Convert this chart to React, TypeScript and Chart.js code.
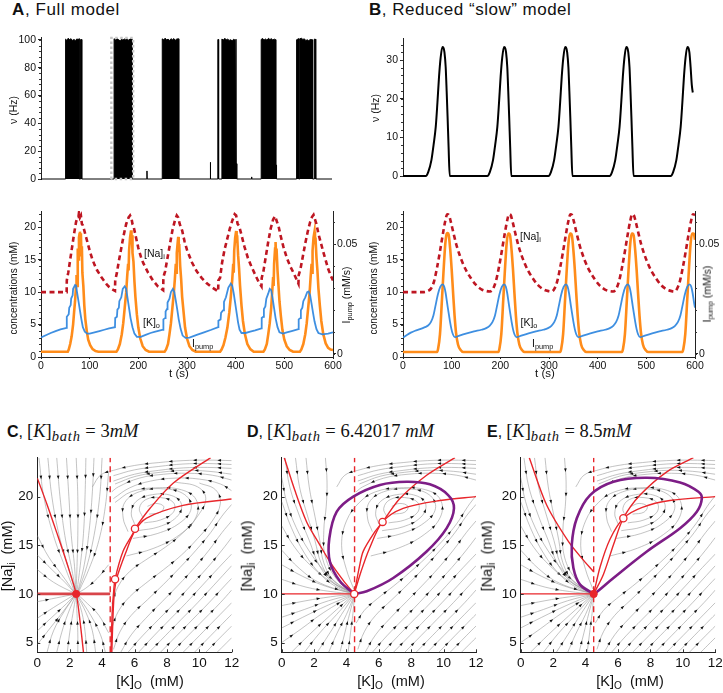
import React, { useEffect, useRef } from 'react';
import { Chart, registerables } from 'chart.js';

Chart.register(...registerables);

const SANS = '"Liberation Sans", Arial, Helvetica, sans-serif';
const SERIF = '"Liberation Serif", "Times New Roman", serif';

const NA_COLOR = '#be1622';
const PUMP_COLOR = '#ff8c1a';
const RED = '#e8262b';
const PURPLE = '#7d1d86';
const STREAM = '#9a9a9a';

// ---------- ticks ----------
const T_TICKS = [0, 100, 200, 300, 400, 500, 600];
const RATE_FULL_TICKS = [0, 20, 40, 60, 80, 100];
const RATE_SLOW_TICKS = [0, 10, 20, 30];
const CONC_TICKS = [0, 5, 10, 15, 20];
const PUMP_TICKS = [0, 0.05];
const KO_TICKS = [0, 2, 4, 6, 8, 10, 12];
const NAI_TICKS = [5, 10, 15, 20];

// ---------- A: full model, firing rate (t s, Hz) ----------
const RATE_FULL = [
  [0, 0], [50.7, 0], [50.7, 100.6], [53, 99.8], [56, 101.2], [59, 100.3], [62, 100.9], [65, 99.6], [68, 100.4], [71, 99.5], [74, 100.8], [77, 100.1], [78.7, 100.9], [78.7, 0],
  [81.6, 0], [81.6, 100.3], [84, 100.3], [84, 0],
  [150.7, 0], [150.7, 100.9], [154, 99.9], [157, 101.3], [160, 100.2], [163, 99.4], [166, 100.5], [169, 99.9], [172, 100.7], [175, 100.0], [178, 100.6], [181, 99.8], [184, 101.0], [187.6, 100.4], [187.6, 0],
  [218.2, 0], [218.5, 5.8], [218.8, 0],
  [250, 0], [250, 100.8], [253, 100.1], [256, 101.3], [259, 100.0], [262, 100.6], [265, 99.6], [268, 100.9], [271, 100.2], [274, 101.0], [277, 99.8], [280, 100.7], [284, 100.8], [284, 0],
  [349, 0], [349.3, 12], [349.6, 0],
  [364.6, 0], [364.6, 100.3], [366.2, 100.3], [366.2, 0],
  [373, 0], [373, 100.7], [376, 99.9], [379, 101.2], [382, 100.1], [385, 100.6], [388, 99.7], [391, 100.2], [394, 99.4], [397, 100.5], [400, 99.9], [402, 100.6], [402, 11], [403.6, 11], [403.6, 0],
  [434, 0], [434.3, 1.5], [434.6, 0],
  [454, 0], [454, 100.4], [457, 101.1], [460, 100.0], [463, 100.7], [466, 99.8], [469, 101.2], [472, 100.3], [475, 100.9], [478, 100.0], [481, 100.6], [484, 100.2], [484, 10], [485.6, 10], [485.6, 0],
  [527, 0], [527, 100.2], [531.5, 100.9], [531.5, 0], [533.5, 0], [533.5, 100.8], [537, 101.2], [540, 100.4], [543, 100.8], [546, 99.6], [549, 100.1], [552, 99.5], [555, 100.3], [560, 100.1], [560, 0],
  [563.5, 0], [563.5, 100.6], [565.5, 100.6], [565.5, 11], [567, 11], [567, 0],
  [600, 0],
];
const RATE_FULL_BOX = [[145, 0], [145, 101.5], [190, 101.5], [190, 0], [145, 0]];

// ---------- A: full model, concentrations (mM) and pump (mM/s) ----------
const NA_FULL = [
  [0, 10], [52.7, 10], [53, 11.8], [56, 13], [60, 15], [64, 17], [68, 19], [72, 20.8], [75, 21.6], [77, 21.6], [78, 22.2], [80, 21.5], [82, 21.8], [84, 20.5], [86, 20.3], [90, 19.2], [95, 17.8], [100, 16.4], [105, 15.2], [110, 14.2], [115, 13.4], [120, 12.8], [125, 12.2], [130, 11.7], [135, 11.2], [140, 10.8], [145, 10.5], [152, 10.2],
  [152.5, 11.8], [156, 13], [160, 14.8], [165, 16.8], [170, 18.8], [175, 20.5], [180, 21.5], [183, 21.8], [186, 21.3], [188, 20.5], [190, 20.2], [195, 18.5], [200, 16.8], [205, 15.5], [210, 14.5], [220, 13], [230, 11.8], [240, 10.9], [251, 10.3],
  [251.5, 12.3], [255, 13.2], [260, 15.3], [265, 17.4], [270, 19.5], [275, 21], [279, 21.8], [282, 21.5], [285, 20.5], [290, 19.5], [295, 17.8], [300, 16.5], [310, 14.6], [320, 13.2], [330, 12.2], [340, 11.4], [350, 10.8], [364, 10.1],
  [364.5, 11.8], [368, 12.2], [372, 14.5], [377, 16.5], [382, 18], [388, 19.8], [393, 21], [398, 22], [401, 21.8], [404, 20.5], [407, 20.2], [412, 18.8], [418, 17], [425, 15.3], [432, 14], [440, 12.7], [447, 11.6], [453, 10.9],
  [453.5, 12.2], [457, 13.2], [462, 15.5], [467, 17.8], [472, 19.8], [477, 21.2], [481, 21.7], [485, 20.8], [488, 20.2], [492, 18.8], [498, 17], [505, 15.3], [512, 14], [520, 12.8], [529, 11.3],
  [529.5, 12.6], [533, 13.5], [538, 15.5], [543, 17.5], [548, 19.3], [553, 20.8], [557, 21.6], [560, 21.9], [563, 21.2], [566, 20.5], [570, 19], [575, 17.6], [580, 16.2], [585, 14.9], [590, 13.6], [595, 12.6], [600, 11.8],
];
const K_FULL = [
  [0, 3], [10, 3.35], [20, 3.7], [30, 4], [40, 4.25], [52.7, 4.5], [53, 6.2], [57, 6.6], [58, 7.6], [61, 8], [62, 9], [65, 9.5], [66, 10.5], [70, 11.1], [72, 11], [74, 10], [77, 8.6], [80, 7.2], [83, 5.8], [86, 4.6], [90, 3.9], [95, 3.6], [100, 3.6], [110, 3.8], [120, 4], [130, 4.2], [140, 4.4], [152, 4.6],
  [152.5, 6], [156, 6.2], [157, 7.3], [160, 7.6], [161, 8.6], [165, 9.2], [168, 10.5], [172, 10.9], [175, 10.5], [178, 9], [181, 7.5], [184, 6], [188, 4.6], [192, 3.6], [197, 3.1], [205, 3.1], [215, 3.4], [225, 3.7], [235, 3.9], [251, 4.2],
  [251.5, 5.8], [255, 6], [256, 7], [259, 7.4], [260, 8.4], [264, 9], [267, 10], [271, 10.5], [274, 10], [277, 8.7], [280, 7.3], [283, 5.8], [287, 4.3], [291, 3.3], [297, 2.95], [305, 3], [320, 3.4], [335, 3.8], [350, 4.2], [364, 4.6],
  [364.5, 5.6], [369, 5.8], [370, 6.8], [374, 7.2], [376, 8.5], [380, 9.2], [385, 10.7], [390, 11.3], [393, 11], [396, 9.8], [399, 8.3], [402, 6.8], [405, 5.3], [408, 4.2], [412, 3.7], [420, 3.7], [430, 3.9], [440, 4.1], [453, 4.4],
  [453.5, 6], [457, 6.2], [458, 7.4], [461, 7.8], [463, 9], [467, 9.8], [470, 10.5], [473, 10.3], [476, 9], [479, 7.5], [482, 6], [486, 4.6], [490, 3.8], [497, 3.6], [505, 3.8], [515, 4], [529, 4.3],
  [529.5, 5.8], [533, 6], [534, 7.2], [537, 7.6], [539, 8.6], [543, 9.2], [547, 10], [550, 10.1], [553, 9.5], [556, 8.2], [559, 6.8], [562, 5.5], [566, 4.3], [570, 3.7], [578, 3.5], [590, 3.6], [600, 3.8],
];
const PUMP_FULL = [
  [0, 0.001], [55, 0.001], [57, 0.002], [60, 0.0045], [63, 0.008], [66, 0.0135], [68, 0.019], [70, 0.024], [72, 0.031], [73, 0.036], [74, 0.031], [75, 0.044], [76, 0.048], [77, 0.043], [78, 0.053], [79, 0.0545], [80, 0.0557], [81, 0.052], [82, 0.055], [83, 0.045], [84, 0.049], [85, 0.037], [87, 0.031], [89, 0.022], [91, 0.016], [94, 0.0105], [97, 0.0065], [101, 0.004], [106, 0.0022], [112, 0.0013], [118, 0.001],
  [155, 0.001], [158, 0.002], [162, 0.0045], [166, 0.009], [169, 0.014], [172, 0.021], [175, 0.028], [177, 0.035], [179, 0.041], [180, 0.038], [181, 0.047], [183, 0.053], [185, 0.0563], [186, 0.05], [187, 0.054], [188, 0.046], [190, 0.042], [192, 0.033], [194, 0.026], [197, 0.018], [200, 0.012], [204, 0.007], [209, 0.0035], [215, 0.0018], [222, 0.001],
  [254, 0.001], [257, 0.002], [261, 0.0045], [264, 0.009], [267, 0.014], [270, 0.021], [273, 0.028], [275, 0.034], [277, 0.041], [278, 0.037], [279, 0.046], [281, 0.051], [282, 0.0533], [283, 0.047], [284, 0.05], [286, 0.04], [288, 0.034], [290, 0.026], [293, 0.019], [296, 0.012], [300, 0.007], [305, 0.0035], [311, 0.0018], [318, 0.001],
  [368, 0.001], [371, 0.002], [375, 0.004], [379, 0.0075], [383, 0.012], [387, 0.019], [390, 0.026], [393, 0.034], [395, 0.041], [396, 0.037], [397, 0.047], [399, 0.053], [401, 0.056], [402, 0.051], [403, 0.054], [405, 0.045], [407, 0.039], [409, 0.031], [412, 0.022], [415, 0.015], [419, 0.009], [424, 0.0045], [430, 0.0022], [437, 0.001],
  [457, 0.001], [460, 0.002], [464, 0.0045], [467, 0.009], [470, 0.014], [473, 0.021], [475, 0.028], [477, 0.035], [478, 0.031], [479, 0.041], [481, 0.048], [482, 0.051], [483, 0.045], [484, 0.048], [486, 0.038], [488, 0.031], [490, 0.024], [493, 0.017], [496, 0.011], [500, 0.0065], [505, 0.0035], [511, 0.0018], [518, 0.001],
  [532, 0.001], [535, 0.002], [539, 0.0045], [543, 0.009], [546, 0.014], [549, 0.021], [552, 0.028], [554, 0.035], [556, 0.041], [557, 0.037], [558, 0.047], [560, 0.053], [562, 0.0557], [563, 0.05], [564, 0.053], [566, 0.044], [568, 0.038], [570, 0.03], [573, 0.022], [576, 0.015], [580, 0.009], [585, 0.0048], [590, 0.0028], [595, 0.002], [600, 0.0018],
];

// ---------- B: reduced model ----------
const RATE_SLOW = [
  [0, 0], [47, 0], [52, 1], [58.6, 4.1], [63, 8], [67.5, 12.7], [71, 19], [74.3, 25.7], [77.5, 30.5], [81.2, 33.4], [83, 33.3], [85.5, 32], [88, 28.2], [90, 22], [92, 15], [94, 7.5], [96.3, 0],
  [174, 0], [179, 1], [185.6, 4.1], [190, 8], [194.5, 12.7], [198, 19], [201.3, 25.7], [204.5, 30.5], [208.2, 33.4], [210, 33.3], [212.5, 32], [215, 28.2], [217, 22], [219, 15], [221, 7.5], [223.3, 0],
  [300, 0], [305, 1], [311.6, 4.1], [316, 8], [320.5, 12.7], [324, 19], [327.3, 25.7], [330.5, 30.5], [334.2, 33.4], [336, 33.3], [338.5, 32], [341, 28.2], [343, 22], [345, 15], [347, 7.5], [349.3, 0],
  [426, 0], [431, 1], [437.6, 4.1], [442, 8], [446.5, 12.7], [450, 19], [453.3, 25.7], [456.5, 30.5], [460.2, 33.4], [462, 33.3], [464.5, 32], [467, 28.2], [469, 22], [471, 15], [473, 7.5], [475.3, 0],
  [552, 0], [557, 1], [563.6, 4.1], [568, 8], [572.5, 12.7], [576, 19], [579.3, 25.7], [582.5, 30.5], [586.2, 33.4], [588, 33.3], [590.5, 32], [593, 28.2], [595.5, 23.5], [597.5, 21.6],
];
const NA_SLOW = [
  [0, 10], [40, 10], [52, 10.2], [58, 10.6], [64, 11.7], [70, 13.8], [76, 16.3], [82, 19], [87, 21], [91, 22], [94, 21.9], [98, 20.9], [104, 19], [110, 17.2], [116, 15.8], [122, 14.6], [130, 13.3], [140, 12.1], [150, 11.1], [162, 10.4], [172, 10.15], [179, 10.1],
  [185, 10.5], [191, 11.7], [197, 13.8], [203, 16.3], [209, 19], [214, 21], [218, 22], [221, 21.9], [225, 20.9], [231, 19], [237, 17.2], [243, 15.8], [249, 14.6], [257, 13.3], [267, 12.1], [277, 11.1], [289, 10.4], [299, 10.15], [305, 10.1],
  [311, 10.5], [317, 11.7], [323, 13.8], [329, 16.3], [335, 19], [340, 21], [344, 22], [347, 21.9], [351, 20.9], [357, 19], [363, 17.2], [369, 15.8], [375, 14.6], [383, 13.3], [393, 12.1], [403, 11.1], [415, 10.4], [425, 10.15], [432, 10.1],
  [438, 10.5], [444, 11.7], [450, 13.8], [456, 16.3], [462, 19], [467, 21], [471, 22], [474, 21.9], [478, 20.9], [484, 19], [490, 17.2], [496, 15.8], [502, 14.6], [510, 13.3], [520, 12.1], [530, 11.1], [542, 10.4], [552, 10.15], [558, 10.1],
  [563, 10.5], [569, 11.7], [575, 13.8], [581, 16.3], [587, 19], [592, 21], [596, 22], [600, 21.9],
];
const K_SLOW = [
  [0, 3], [8, 3.4], [16, 3.75], [25, 4.05], [35, 4.3], [45, 4.6], [51.5, 4.85], [57.5, 5.4], [62.5, 6.4], [66.5, 7.8], [71.5, 9.6], [76.5, 10.8], [81.5, 11.2], [84.5, 10.9], [87.5, 9.9], [90.5, 8.4], [93.5, 6.9], [96.5, 5.5], [99.5, 4.3], [102.5, 3.5], [106.5, 3.05],
  [116, 3.3], [131, 3.65], [146, 3.95], [161, 4.2], [171, 4.45], [178, 4.8], [184, 5.4], [189, 6.4], [193, 7.8], [198, 9.6], [203, 10.8], [208, 11.2], [211, 10.9], [214, 9.9], [217, 8.4], [220, 6.9], [223, 5.5], [226, 4.3], [229, 3.5], [233, 3.05],
  [243, 3.3], [258, 3.65], [273, 3.95], [288, 4.2], [298, 4.45], [305, 4.8], [311, 5.4], [316, 6.4], [320, 7.8], [325, 9.6], [330, 10.8], [335, 11.2], [338, 10.9], [341, 9.9], [344, 8.4], [347, 6.9], [350, 5.5], [353, 4.3], [356, 3.5], [360, 3.05],
  [370, 3.3], [385, 3.65], [400, 3.95], [415, 4.2], [425, 4.45], [432, 4.8], [438, 5.4], [443, 6.4], [447, 7.8], [452, 9.6], [457, 10.8], [462, 11.2], [465, 10.9], [468, 9.9], [471, 8.4], [474, 6.9], [477, 5.5], [480, 4.3], [483, 3.5], [487, 3.05],
  [497, 3.3], [512, 3.65], [527, 3.95], [542, 4.2], [552, 4.45], [559, 4.8], [565, 5.4], [570, 6.4], [574, 7.8], [579, 9.6], [584, 10.8], [589, 11.2], [592, 10.9], [595, 9.9], [598, 8.4], [600, 7.6],
];
const PUMP_SLOW = [
  [0, 0.0009], [70, 0.0009], [72, 0.0022], [76, 0.009], [80, 0.0246], [83, 0.0365], [87, 0.0504], [90, 0.0548], [92, 0.0551], [94, 0.0542], [97, 0.0477], [100, 0.0385], [103, 0.0276], [106, 0.0173], [109, 0.0096], [113, 0.0043], [118, 0.0019], [124, 0.0009],
  [196, 0.0009], [198, 0.0022], [202, 0.009], [206, 0.0246], [209, 0.0365], [213, 0.0504], [216, 0.0548], [218, 0.0548], [220, 0.054], [223, 0.0475], [226, 0.0385], [229, 0.0276], [232, 0.0173], [235, 0.0096], [239, 0.0043], [244, 0.0019], [250, 0.0009],
  [323, 0.0009], [325, 0.0022], [329, 0.009], [333, 0.0246], [336, 0.0365], [340, 0.0504], [343, 0.0548], [345, 0.0548], [347, 0.054], [350, 0.0475], [353, 0.0385], [356, 0.0276], [359, 0.0173], [362, 0.0096], [366, 0.0043], [371, 0.0019], [377, 0.0009],
  [450, 0.0009], [452, 0.0022], [456, 0.009], [460, 0.0246], [463, 0.0365], [467, 0.0504], [470, 0.0548], [472, 0.0548], [474, 0.054], [477, 0.0475], [480, 0.0385], [483, 0.0276], [486, 0.0173], [489, 0.0096], [493, 0.0043], [498, 0.0019], [504, 0.0009],
  [574, 0.0009], [576, 0.0022], [580, 0.009], [584, 0.0246], [587, 0.0365], [591, 0.0504], [594, 0.0548], [596.5, 0.0548], [598, 0.0545], [600, 0.052],
];

// ---------- C/D/E phase planes ([K]o mM, [Na]i mM) ----------
const RIGHT_DIAG = [
  [[4.7, 4.3], [5.1, 6.1], [5.8, 7.8], [6.8, 9.4], [7.8, 11], [8.8, 12.7], [9.8, 14.5], [10.7, 16.3], [11.4, 18], [12, 19.2]],
  [[5.15, 4], [5.8, 5.8], [6.7, 7.5], [7.7, 9.2], [8.7, 10.9], [9.7, 12.7], [10.6, 14.5], [11.4, 16.3], [12, 17.5]],
  [[5.6, 4], [6.5, 5.7], [7.5, 7.4], [8.5, 9.1], [9.5, 10.9], [10.5, 12.7], [11.4, 14.5], [12, 15.8]],
  [[6.25, 4], [7.2, 5.7], [8.2, 7.4], [9.2, 9.1], [10.2, 10.9], [11.2, 12.7], [12, 14.1]],
  [[6.9, 4], [7.9, 5.7], [8.9, 7.4], [9.9, 9.1], [10.9, 10.9], [12, 12.9]],
  [[7.6, 4], [8.6, 5.7], [9.6, 7.4], [10.6, 9.1], [11.6, 10.9], [12, 11.6]],
  [[8.3, 4], [9.3, 5.7], [10.3, 7.4], [11.3, 9.1], [12, 10.4]],
  [[9, 4], [10, 5.7], [11, 7.4], [12, 9.1]],
  [[9.7, 4], [10.7, 5.7], [11.7, 7.4], [12, 7.9]],
  [[10.4, 4], [11.4, 5.7], [12, 6.7]],
  [[11.1, 4], [11.7, 5], [12, 5.5]],
];
const TOP_FLOW = [
  [[12, 23.7], [10.5, 23.75], [9, 23.7], [7.5, 23.5], [6, 23.2], [4.7, 22.7], [3.9, 22.2], [3.4, 21]],
  [[12, 23.3], [10.5, 23.4], [9, 23.35], [7.5, 23.1], [6, 22.75], [4.7, 22.15]],
  [[12, 22.9], [10.5, 23], [9, 22.95], [7.5, 22.7], [6, 22.3], [4.7, 21.6]],
  [[12, 22.3], [10.6, 22.6], [9.1, 22.7], [7.6, 22.5], [6.1, 22.1], [4.8, 21.3]],
  [[12, 21.7], [10.8, 22.2], [9.3, 22.4], [7.8, 22.3], [6.3, 21.9], [5, 21], [4.6, 20.5]],
];
const INNER_LOOPS = [
  [[6.9, 18.2], [7.6, 18.4], [7.8, 19], [7.3, 19.3], [6.8, 19]],
  [[6.6, 17.3], [7.6, 17.6], [8.4, 18.4], [8.4, 19.4], [7.6, 19.9], [6.7, 19.7], [6.3, 18.8], [6.5, 17.9]],
  [[6.2, 16.5], [7.5, 16.9], [8.6, 17.9], [8.9, 19.2], [8.3, 20.1], [7.1, 20.2], [6.1, 19.5], [5.8, 18.3], [6, 17.2]],
  [[5.9, 15.7], [7.4, 16.2], [8.8, 17.3], [9.5, 18.8], [9.1, 20.2], [7.8, 20.8], [6.3, 20.5], [5.4, 19.4], [5.3, 17.8], [5.6, 16.4]],
];
const C_EXTRA = [
  [[12, 20.6], [11.3, 21.3], [10, 21.8], [8.5, 21.9], [7, 21.6], [5.7, 20.9], [4.7, 19.8]],
  [[5.5, 13.9], [7.2, 14.7], [8.8, 16.1], [9.8, 17.9], [9.8, 19.7], [8.9, 20.7], [7.3, 20.9], [5.8, 20.5], [4.8, 19.4]],
  [[4.6, 9], [5, 10.8], [5.7, 12.3], [6.7, 13.5], [7.9, 14.8], [9, 16.3], [9.9, 18], [10.4, 19.8], [9.9, 21], [8.5, 21.5]],
  [[4.6, 6.5], [5, 8.2], [5.7, 9.7], [6.7, 11.1], [7.8, 12.5], [8.9, 14], [9.9, 15.7], [10.8, 17.5], [11.3, 19.3], [11, 20.7], [10, 21.4]],
];
const C_LEFT = [
  [[0.1, 24], [0.4, 20], [1, 16], [1.7, 12.8], [2.3, 10.2]],
  [[0.65, 24], [0.9, 20], [1.35, 16], [1.9, 12.8], [2.33, 10.22]],
  [[1.2, 24], [1.4, 20], [1.7, 16], [2.1, 12.8], [2.37, 10.25]],
  [[1.8, 24], [1.95, 20], [2.1, 16], [2.3, 12.8], [2.38, 10.3]],
  [[2.4, 24], [2.5, 20], [2.5, 16], [2.45, 12.8], [2.4, 10.3]],
  [[3, 24], [2.95, 20.2], [2.85, 16.2], [2.65, 12.9], [2.45, 10.28]],
  [[3.5, 24], [3.4, 20.5], [3.2, 16.5], [2.9, 13], [2.5, 10.25]],
  [[4, 24], [3.85, 20], [3.5, 16], [3.05, 12.8], [2.52, 10.22]],
  [[4.4, 22.5], [4.2, 19], [3.8, 15.5], [3.2, 12.6], [2.55, 10.2]],
  [[0, 16], [0.7, 13.8], [1.5, 12], [2.3, 10.15]],
  [[0, 14], [0.9, 12.5], [1.7, 11.2], [2.3, 10.1]],
  [[0, 12.5], [1, 11.2], [2.3, 10.07]],
  [[4.4, 13], [3.7, 11.6], [3, 10.6], [2.5, 10.1]],
  [[0, 9.2], [1.2, 9.6], [2.3, 9.97]],
  [[0, 7.5], [1, 8.6], [2.3, 9.93]],
  [[0, 6.2], [0.9, 7.6], [1.8, 9], [2.32, 9.9]],
  [[0, 4.8], [0.8, 6.5], [1.6, 8.2], [2.33, 9.88]],
  [[0.6, 4], [1, 6.2], [1.7, 8.3], [2.35, 9.87]],
  [[1.2, 4], [1.5, 6], [1.9, 8], [2.37, 9.85]],
  [[1.85, 4], [2, 6], [2.2, 8], [2.39, 9.83]],
  [[2.5, 4], [2.5, 6], [2.45, 8], [2.4, 9.8]],
  [[3.05, 4], [2.95, 6.1], [2.75, 8.1], [2.42, 9.83]],
  [[3.6, 4], [3.4, 6.2], [3, 8.1], [2.45, 9.85]],
  [[4.2, 4], [3.9, 5.8], [3.3, 7.8], [2.48, 9.88]],
  [[4.4, 6], [3.8, 7.8], [3.1, 9], [2.5, 9.93]],
];
const DE_LEFT = [
  [[0.2, 24], [0.5, 21], [1.1, 18], [1.7, 15.5], [2.3, 13], [3.2, 11.1], [4.4, 10.08]],
  [[0.85, 24], [1.1, 21], [1.6, 18], [2.05, 15.5], [2.45, 13.1], [3.2, 11.2], [4.4, 10.1]],
  [[1.5, 24], [1.7, 21], [2.05, 18], [2.35, 15.5], [2.6, 13.2], [3.25, 11.3], [4.4, 10.12]],
  [[2.7, 24], [2.8, 21.5], [2.75, 19], [2.6, 16.5], [2.7, 13.8], [3.4, 11.5], [4.42, 10.15]],
  [[0, 22], [0.3, 19.5], [0.9, 16.8], [1.7, 14.4], [2.6, 12.4], [3.5, 11], [4.4, 10.06]],
  [[0, 19.5], [0.6, 16.8], [1.4, 14.2], [2.4, 12], [3.4, 10.7], [4.4, 10.05]],
  [[0, 17], [0.8, 14.8], [1.8, 12.9], [3, 11.3], [4.4, 10.04]],
  [[0, 14.5], [1.1, 12.6], [2.4, 11.1], [4.4, 10.03]],
  [[0, 13], [1.3, 11.8], [2.7, 10.8], [4.4, 10.02]],
  [[0, 11.5], [1.5, 10.7], [3, 10.25], [4.4, 10.01]],
  [[0, 8.8], [1.5, 9.3], [3, 9.7], [4.4, 9.97]],
  [[0, 7.6], [1.4, 8.4], [2.9, 9.3], [4.4, 9.95]],
  [[0, 6.5], [1.3, 7.6], [2.8, 8.8], [4.4, 9.93]],
  [[0, 5], [1.2, 6.4], [2.6, 8.1], [4.4, 9.9]],
  [[0.6, 4], [1.7, 5.8], [3, 7.8], [4.4, 9.88]],
  [[1.4, 4], [2.3, 5.9], [3.4, 7.9], [4.42, 9.85]],
  [[2.2, 4], [2.9, 5.8], [3.7, 7.9], [4.45, 9.82]],
  [[2.9, 4], [3.4, 5.9], [4, 7.9], [4.47, 9.8]],
  [[3.6, 4], [3.9, 6], [4.2, 8], [4.48, 9.75]],
  [[4.1, 4], [4.25, 6], [4.4, 8], [4.49, 9.7]],
  [[5.5, 13.9], [7.2, 14.7], [8.8, 16.1], [9.8, 17.9], [9.8, 19.7], [8.9, 20.7], [7.3, 20.9], [5.8, 20.5], [4.8, 19.4], [4, 17.5], [3.7, 15], [4, 12.5], [4.45, 10.5]],
  [[4.6, 7], [5.1, 8.3], [5.9, 9.5], [6.9, 10.8], [7.9, 12.2], [8.9, 13.7], [9.9, 15.4], [10.8, 17.2], [11.5, 19], [12, 20.1]],
];
const VLINE = [[4.5, 4], [4.5, 24]];

const C_NULLS = [
  [[0, 21.9], [0.6, 19.2], [1.2, 16.3], [1.8, 13.3], [2.4, 10], [2.65, 7], [2.85, 4]],
  [[4.55, 4], [4.62, 8], [4.7, 10], [4.8, 11.5], [5.3, 14.4], [5.9, 16.2], [6.03, 16.7], [6.96, 18.8], [8.4, 21.4], [10.7, 24]],
  [[4.6, 4], [4.68, 8], [4.75, 10], [4.9, 11.6], [5.45, 14.2], [6.03, 16.5], [6.75, 17.8], [9, 19.1], [12, 19.75]],
];
const C_THICK = [[0, 10], [4.5, 10]];
const C_STABLE = [[2.4, 10]];
const C_UNSTABLE = [[4.8, 11.5], [6.03, 16.7]];

const D_NULLS = [
  [[0.16, 24], [0.8, 20.7], [1.54, 17.4], [2.3, 15.2], [2.98, 13.3], [3.8, 11.4], [4.48, 10]],
  [[0, 10], [4.48, 10]],
  [[4.48, 10], [4.8, 12.8], [5.04, 14.4], [5.76, 16.4], [6.23, 17.4], [7.3, 19.8], [8.95, 22.2], [10.7, 24]],
  [[4.48, 10], [4.9, 12.3], [5.4, 14.6], [6.23, 17.4], [7.5, 18.8], [9.77, 19.6], [12, 20]],
];
const D_CYCLE = [[4.48, 10], [3.6, 11.3], [2.98, 13.3], [2.94, 15.7], [3.4, 18.45], [4.42, 20], [6.07, 21.2], [7.72, 21.53], [9.15, 21.26], [10.28, 20.16], [10.64, 18.8], [10.19, 16.76], [8.95, 14.36], [6.89, 11.64], [5.25, 10.27], [4.48, 10]];
const D_STABLE: number[][] = [];
const D_UNSTABLE = [[4.48, 10], [6.23, 17.4]];

const E_NULLS = [
  [[0.53, 24], [1.6, 19.14], [2.94, 15.4], [3.8, 13.6], [4.48, 12.3]],
  [[0, 10], [4.5, 10]],
  [[4.5, 10], [5.1, 12], [5.72, 15.05], [6.33, 17.78], [7.36, 20.16], [9.01, 22.55], [10.65, 24]],
  [[4.5, 10], [4.9, 12.8], [5.5, 15.6], [6.33, 17.78], [7.5, 18.9], [9.2, 19.6], [12, 20]],
];
const E_CYCLE = [[4.5, 10], [3.66, 10.95], [3.25, 12.66], [3.15, 15.05], [3.46, 17.78], [4.28, 20.16], [5.72, 21.53], [7.78, 21.94], [9.83, 21.46], [10.96, 20.5], [11.17, 19.82], [10.86, 18.45], [9.83, 16.76], [7.78, 14.36], [5.72, 11.64], [4.69, 10.2], [4.5, 10]];
const E_STABLE = [[4.5, 10]];
const E_UNSTABLE = [[6.33, 17.78]];

// ---------- helpers ----------
const xy = (a: number[][]) => a.map(([x, y]) => ({ x, y }));

type Box = { x: number; y: number; w: number; h: number };
type Area = { l: number; t: number; r: number; b: number };

function pad(box: Box, a: Area, yW: number, rW: number, xH: number) {
  return { left: a.l - box.x - yW, top: a.t - box.y, right: box.x + box.w - a.r - rW, bottom: box.y + box.h - a.b - xH };
}

function zeroPad(s: any) {
  s.paddingTop = 0; s.paddingBottom = 0; s.paddingLeft = 0; s.paddingRight = 0;
}

function yAx(o: any) {
  return {
    type: 'linear', position: o.pos, min: o.min, max: o.max,
    afterBuildTicks: (s: any) => { s.ticks = o.ticks.map((v: number) => ({ value: v })); },
    afterFit: (s: any) => { s.width = o.w; zeroPad(s); },
    grid: { display: true, drawOnChartArea: false, drawTicks: o.tick > 0, tickLength: o.tick || 0, color: '#222', lineWidth: 1 },
    border: { display: true, color: '#222', width: 1 },
    ticks: { font: { family: SANS, size: o.fs }, color: '#111', padding: o.pad, autoSkip: false, maxRotation: 0, callback: (v: any) => String(v) },
  };
}
function xAx(o: any) {
  return {
    type: 'linear', position: 'bottom', min: o.min, max: o.max,
    afterBuildTicks: (s: any) => { s.ticks = o.ticks.map((v: number) => ({ value: v })); },
    afterFit: (s: any) => { s.height = o.h; zeroPad(s); },
    grid: { display: true, drawOnChartArea: false, drawTicks: o.tick > 0, tickLength: o.tick || 0, color: '#222', lineWidth: 1 },
    border: { display: true, color: '#222', width: 1 },
    ticks: { font: { family: SANS, size: o.fs }, color: '#111', padding: o.pad, autoSkip: false, maxRotation: 0, callback: (v: any) => String(v) },
  };
}

function decor(items: any[]) {
  return {
    id: 'decor',
    afterDraw(chart: any) {
      const ctx = chart.ctx;
      const ca = chart.chartArea;
      ctx.save();
      ctx.strokeStyle = '#333';
      ctx.lineWidth = 1;
      for (const it of items) {
        const s = chart.scales[it.axis];
        const n = Math.round((it.to - it.from) / it.step);
        for (let i = 0; i <= n; i++) {
          const v = it.from + i * it.step;
          const p = Math.round(s.getPixelForValue(v)) + 0.5;
          ctx.beginPath();
          if (it.axis === 'x') {
            const y0 = ca.bottom;
            const d = it.inward ? -it.len : it.len;
            ctx.moveTo(p, y0); ctx.lineTo(p, y0 + d);
          } else {
            const right = s.position === 'right';
            const x0 = right ? ca.right : ca.left;
            const out = right ? 1 : -1;
            const d = (it.inward ? -out : out) * it.len;
            ctx.moveTo(x0, p); ctx.lineTo(x0 + d, p);
          }
          ctx.stroke();
        }
      }
      ctx.restore();
    },
  };
}

// arrowheads placed at the middle of each drawn (bezier) segment of a streamline
const arrowPlugin = {
  id: 'arrows',
  afterDatasetDraw(chart: any, args: any) {
    const ds: any = chart.data.datasets[args.index];
    if (!ds.arrows) return;
    const pts = args.meta.data;
    const ctx = chart.ctx;
    const ca = chart.chartArea;
    const last = pts[pts.length - 1];
    ctx.save();
    ctx.beginPath();
    ctx.rect(ca.left, ca.top, ca.right - ca.left, ca.bottom - ca.top);
    ctx.clip();
    ctx.fillStyle = '#111';
    for (let i = 0; i < pts.length - 1; i++) {
      const p0 = pts[i], p3 = pts[i + 1];
      if (Math.hypot(p3.x - p0.x, p3.y - p0.y) < 11) continue;
      const c1x = p0.cp2x ?? p0.x, c1y = p0.cp2y ?? p0.y;
      const c2x = p3.cp1x ?? p3.x, c2y = p3.cp1y ?? p3.y;
      const mx = (p0.x + 3 * c1x + 3 * c2x + p3.x) / 8;
      const my = (p0.y + 3 * c1y + 3 * c2y + p3.y) / 8;
      if (Math.hypot(mx - last.x, my - last.y) < 15) continue;
      let dx = p3.x - p0.x + c2x - c1x, dy = p3.y - p0.y + c2y - c1y;
      const L = Math.hypot(dx, dy);
      if (!L) continue;
      dx /= L; dy /= L;
      const f = 2.2, r = 1.5, w = 1.35;
      ctx.beginPath();
      ctx.moveTo(mx + dx * f, my + dy * f);
      ctx.lineTo(mx - dx * r - dy * w, my - dy * r + dx * w);
      ctx.lineTo(mx - dx * r + dy * w, my - dy * r - dx * w);
      ctx.closePath();
      ctx.fill();
    }
    ctx.restore();
  },
};

const baseOpts = (padding: any, scales: any) => ({
  responsive: false,
  animation: false,
  events: [],
  layout: { padding },
  plugins: { legend: { display: false }, tooltip: { enabled: false } },
  elements: { point: { radius: 0 } },
  scales,
});

// ---------- chart specs ----------
const BOX_A1: Box = { x: 0, y: 20, w: 360, h: 175 };
const AREA_A1: Area = { l: 41, t: 37.9, r: 332, b: 179 };
const BOX_B1: Box = { x: 360, y: 20, w: 363, h: 175 };
const AREA_B1: Area = { l: 403, t: 38, r: 694, b: 176 };
const BOX_A2: Box = { x: 0, y: 195, w: 360, h: 190 };
const AREA_A2: Area = { l: 41, t: 211, r: 333, b: 357 };
const BOX_B2: Box = { x: 360, y: 195, w: 363, h: 190 };
const AREA_B2: Area = { l: 403, t: 211, r: 695, b: 357 };
const BOX_C: Box = { x: 0, y: 445, w: 240, h: 248 };
const AREA_C: Area = { l: 37.3, t: 457.7, r: 231.7, b: 652.3 };
const BOX_D: Box = { x: 240, y: 445, w: 243, h: 248 };
const AREA_D: Area = { l: 281.7, t: 457.7, r: 476, b: 652.3 };
const BOX_E: Box = { x: 483, y: 445, w: 240, h: 248 };
const AREA_E: Area = { l: 520.7, t: 457.7, r: 715.3, b: 652.3 };

function rateFullCfg() {
  return {
    type: 'line',
    data: {
      datasets: [
        { data: xy(RATE_FULL_BOX), borderColor: '#c6c6c6', borderWidth: 2.4, borderDash: [2.5, 2.5], pointRadius: 0, clip: false },
        { data: xy(RATE_FULL), borderColor: '#000', backgroundColor: '#000', borderWidth: 1, fill: 'origin', pointRadius: 0, tension: 0, clip: false },
      ],
    },
    options: baseOpts(pad(BOX_A1, AREA_A1, 39, 0, 0), {
      x: { type: 'linear', display: false, min: 0, max: 600 },
      y: yAx({ pos: 'left', min: 0, max: 101.5, ticks: RATE_FULL_TICKS, w: 39, fs: 10.5, tick: 3, pad: 2 }),
    }),
    plugins: [decor([{ axis: 'y', from: 0, to: 100, step: 4, len: 2 }])],
  };
}

function rateSlowCfg() {
  return {
    type: 'line',
    data: {
      datasets: [
        { data: xy(RATE_SLOW), borderColor: '#000', borderWidth: 2, pointRadius: 0, cubicInterpolationMode: 'monotone', clip: false },
      ],
    },
    options: baseOpts(pad(BOX_B1, AREA_B1, 41, 0, 0), {
      x: { type: 'linear', display: false, min: 0, max: 600 },
      y: yAx({ pos: 'left', min: 0, max: 35.7, ticks: RATE_SLOW_TICKS, w: 41, fs: 10.5, tick: 3, pad: 2 }),
    }),
    plugins: [decor([{ axis: 'y', from: 0, to: 34, step: 2, len: 2 }])],
  };
}

function concCfg(box: Box, area: Area, yW: number, na: number[][], k: number[][], pump: number[][], smooth: boolean) {
  const interp = smooth ? { cubicInterpolationMode: 'monotone' } : { tension: 0 };
  return {
    type: 'line',
    data: {
      datasets: [
        { data: xy(na), borderColor: NA_COLOR, borderWidth: 2.6, borderDash: [5, 3.5], pointRadius: 0, yAxisID: 'y', ...interp },
        { data: xy(k), borderColor: 'rgba(46,134,222,0.92)', borderWidth: 1.8, pointRadius: 0, yAxisID: 'y', ...interp },
        { data: xy(pump), borderColor: PUMP_COLOR, borderWidth: 2.6, pointRadius: 0, yAxisID: 'y2', ...interp },
      ],
    },
    options: baseOpts(pad(box, area, yW, 25, 20), {
      x: xAx({ min: 0, max: 600, ticks: T_TICKS, h: 20, fs: 10.5, tick: 2, pad: 1 }),
      y: yAx({ pos: 'left', min: 0, max: 22.5, ticks: CONC_TICKS, w: yW, fs: 10.5, tick: 3, pad: 2 }),
      y2: yAx({ pos: 'right', min: -0.0014, max: 0.0651, ticks: PUMP_TICKS, w: 25, fs: 10.5, tick: 3, pad: 1 }),
    }),
    plugins: [decor([
      { axis: 'y', from: 0, to: 22, step: 1, len: 2 },
      { axis: 'y2', from: 0, to: 0.06, step: 0.01, len: 2 },
    ])],
  };
}

function phaseCfg(box: Box, area: Area, yW: number, p: any) {
  const ds: any[] = [
    { data: xy(p.filled), showLine: false, pointRadius: 3.6, pointBackgroundColor: RED, pointBorderColor: RED, pointBorderWidth: 1, clip: false },
    { data: xy(p.open), showLine: false, pointRadius: 3.6, pointBackgroundColor: '#fff', pointBorderColor: RED, pointBorderWidth: 1.3, clip: false },
  ];
  if (p.cycle) ds.push({ data: xy(p.cycle), borderColor: PURPLE, borderWidth: 2.6, tension: 0.35, pointRadius: 0 });
  p.nulls.forEach((n: number[][]) => ds.push({ data: xy(n), borderColor: RED, borderWidth: 1.4, tension: 0.3, pointRadius: 0 }));
  if (p.thick) ds.push({ data: xy(p.thick), borderColor: '#d8454a', borderWidth: 2.6, pointRadius: 0 });
  ds.push({ data: xy(VLINE), borderColor: RED, borderWidth: 1.4, borderDash: [6, 4], pointRadius: 0 });
  p.streams.forEach((s: number[][]) => ds.push({ data: xy(s), borderColor: STREAM, borderWidth: 0.6, tension: 0.4, pointRadius: 0, arrows: true }));
  return {
    type: 'line',
    data: { datasets: ds },
    options: baseOpts(pad(box, area, yW, 0, 22), {
      x: xAx({ min: 0, max: 12, ticks: KO_TICKS, h: 22, fs: 13.5, tick: 0, pad: 3 }),
      y: yAx({ pos: 'left', min: 4, max: 24, ticks: NAI_TICKS, w: yW, fs: 13.5, tick: 0, pad: 4 }),
    }),
    plugins: [arrowPlugin, decor([
      { axis: 'x', from: 0, to: 12, step: 2, len: 3, inward: true },
      { axis: 'y', from: 5, to: 20, step: 5, len: 3, inward: true },
    ])],
  };
}

const SPECS: { box: Box; build: () => any }[] = [
  { box: BOX_A1, build: rateFullCfg },
  { box: BOX_B1, build: rateSlowCfg },
  { box: BOX_A2, build: () => concCfg(BOX_A2, AREA_A2, 39, NA_FULL, K_FULL, PUMP_FULL, false) },
  { box: BOX_B2, build: () => concCfg(BOX_B2, AREA_B2, 41, NA_SLOW, K_SLOW, PUMP_SLOW, true) },
  {
    box: BOX_C, build: () => phaseCfg(BOX_C, AREA_C, 35.3, {
      filled: C_STABLE, open: C_UNSTABLE, nulls: C_NULLS, thick: C_THICK,
      streams: [...C_LEFT, ...RIGHT_DIAG, ...TOP_FLOW, ...INNER_LOOPS, ...C_EXTRA],
    }),
  },
  {
    box: BOX_D, build: () => phaseCfg(BOX_D, AREA_D, 39.7, {
      filled: D_STABLE, open: D_UNSTABLE, nulls: D_NULLS, cycle: D_CYCLE,
      streams: [...DE_LEFT, ...RIGHT_DIAG, ...TOP_FLOW, ...INNER_LOOPS],
    }),
  },
  {
    box: BOX_E, build: () => phaseCfg(BOX_E, AREA_E, 35.7, {
      filled: E_STABLE, open: E_UNSTABLE, nulls: E_NULLS, cycle: E_CYCLE,
      streams: [...DE_LEFT, ...RIGHT_DIAG, ...TOP_FLOW, ...INNER_LOOPS],
    }),
  },
];

// ---------- text ----------
function Txt({ x, y, size, mode = 'base', children, style }: any) {
  const st: any = { position: 'absolute', left: x, whiteSpace: 'pre', fontSize: size, lineHeight: `${size}px`, ...(style || {}) };
  if (mode === 'base') st.top = y - 0.85 * size;
  else if (mode === 'center') { st.top = y; st.transform = 'translate(-50%,-50%)'; }
  else { st.top = y; st.transform = 'translate(-50%,-50%) rotate(-90deg)'; }
  return <div style={st}>{children}</div>;
}
const Sub = ({ children, s = 0.7 }: any) => (
  <span style={{ fontSize: `${s}em`, position: 'relative', top: '0.3em' }}>{children}</span>
);

function PhaseTitle({ x, letter, value }: any) {
  return (
    <Txt x={x} y={437} size={16}>
      <b>{letter}</b>,
      <span style={{ fontFamily: SERIF, fontSize: 18.5, marginLeft: 4 }}>
        [<i>K</i>]<span style={{ fontSize: 14.5, position: 'relative', top: 4, fontStyle: 'italic', letterSpacing: 0.8 }}>bath</span>
        {' '}= {value}<i>mM</i>
      </span>
    </Txt>
  );
}

export default function App() {
  const refs = useRef<(HTMLCanvasElement | null)[]>([]);
  useEffect(() => {
    const charts = SPECS.map((s, i) => new Chart(refs.current[i] as HTMLCanvasElement, s.build()));
    return () => charts.forEach((c) => c.destroy());
  }, []);
  return (
    <div style={{ position: 'fixed', left: 0, top: 0, width: 723, height: 693, background: '#fff', overflow: 'hidden', fontFamily: SANS, color: '#111' }}>
      {SPECS.map((s, i) => (
        <canvas
          key={i}
          ref={(el) => { refs.current[i] = el; }}
          width={s.box.w}
          height={s.box.h}
          style={{ position: 'absolute', left: s.box.x, top: s.box.y, width: s.box.w, height: s.box.h }}
        />
      ))}

      <Txt x={12} y={15} size={17} style={{ letterSpacing: 0.6 }}><b>A</b>, Full model</Txt>
      <Txt x={369} y={15} size={17} style={{ letterSpacing: 0.5 }}><b>B</b>, Reduced “slow” model</Txt>

      <Txt x={12.5} y={110} size={10.5} mode="rot">ν (Hz)</Txt>
      <Txt x={375} y={108} size={10.5} mode="rot">ν (Hz)</Txt>
      <Txt x={13.5} y={288} size={10.2} mode="rot">concentrations (mM)</Txt>
      <Txt x={373.5} y={288} size={10.2} mode="rot">concentrations (mM)</Txt>
      <Txt x={347} y={295} size={10.5} mode="rot">I<Sub>pump</Sub> (mM/s)</Txt>
      <Txt x={708} y={294} size={10.5} mode="rot">I<Sub>pump</Sub> (mM/s)</Txt>
      <Txt x={179} y={374} size={11.5} mode="center">t (s)</Txt>
      <Txt x={545} y={374} size={11.5} mode="center">t (s)</Txt>

      <Txt x={144} y={256.5} size={10.5}>[Na]<Sub>i</Sub></Txt>
      <Txt x={143} y={326} size={10.5}>[K]<Sub>o</Sub></Txt>
      <Txt x={192} y={346.5} size={10.5}>I<Sub>pump</Sub></Txt>
      <Txt x={520} y={239.5} size={10.5}>[Na]<Sub>i</Sub></Txt>
      <Txt x={520.5} y={326} size={10.5}>[K]<Sub>o</Sub></Txt>
      <Txt x={532} y={346.5} size={10.5}>I<Sub>pump</Sub></Txt>

      <PhaseTitle x={7} letter="C" value="3" />
      <PhaseTitle x={247} letter="D" value="6.42017 " />
      <PhaseTitle x={487} letter="E" value="8.5" />

      <Txt x={8} y={556} size={14.5} mode="rot">[Na]<Sub>i</Sub>  (mM)</Txt>
      <Txt x={248} y={556} size={14.5} mode="rot">[Na]<Sub>i</Sub>  (mM)</Txt>
      <Txt x={488} y={556} size={14.5} mode="rot">[Na]<Sub>i</Sub>  (mM)</Txt>
      <Txt x={150} y={682} size={14.5} mode="center">[K]<Sub>O</Sub>  (mM)</Txt>
      <Txt x={391} y={682} size={14.5} mode="center">[K]<Sub>O</Sub>  (mM)</Txt>
      <Txt x={630} y={682} size={14.5} mode="center">[K]<Sub>O</Sub>  (mM)</Txt>
    </div>
  );
}
